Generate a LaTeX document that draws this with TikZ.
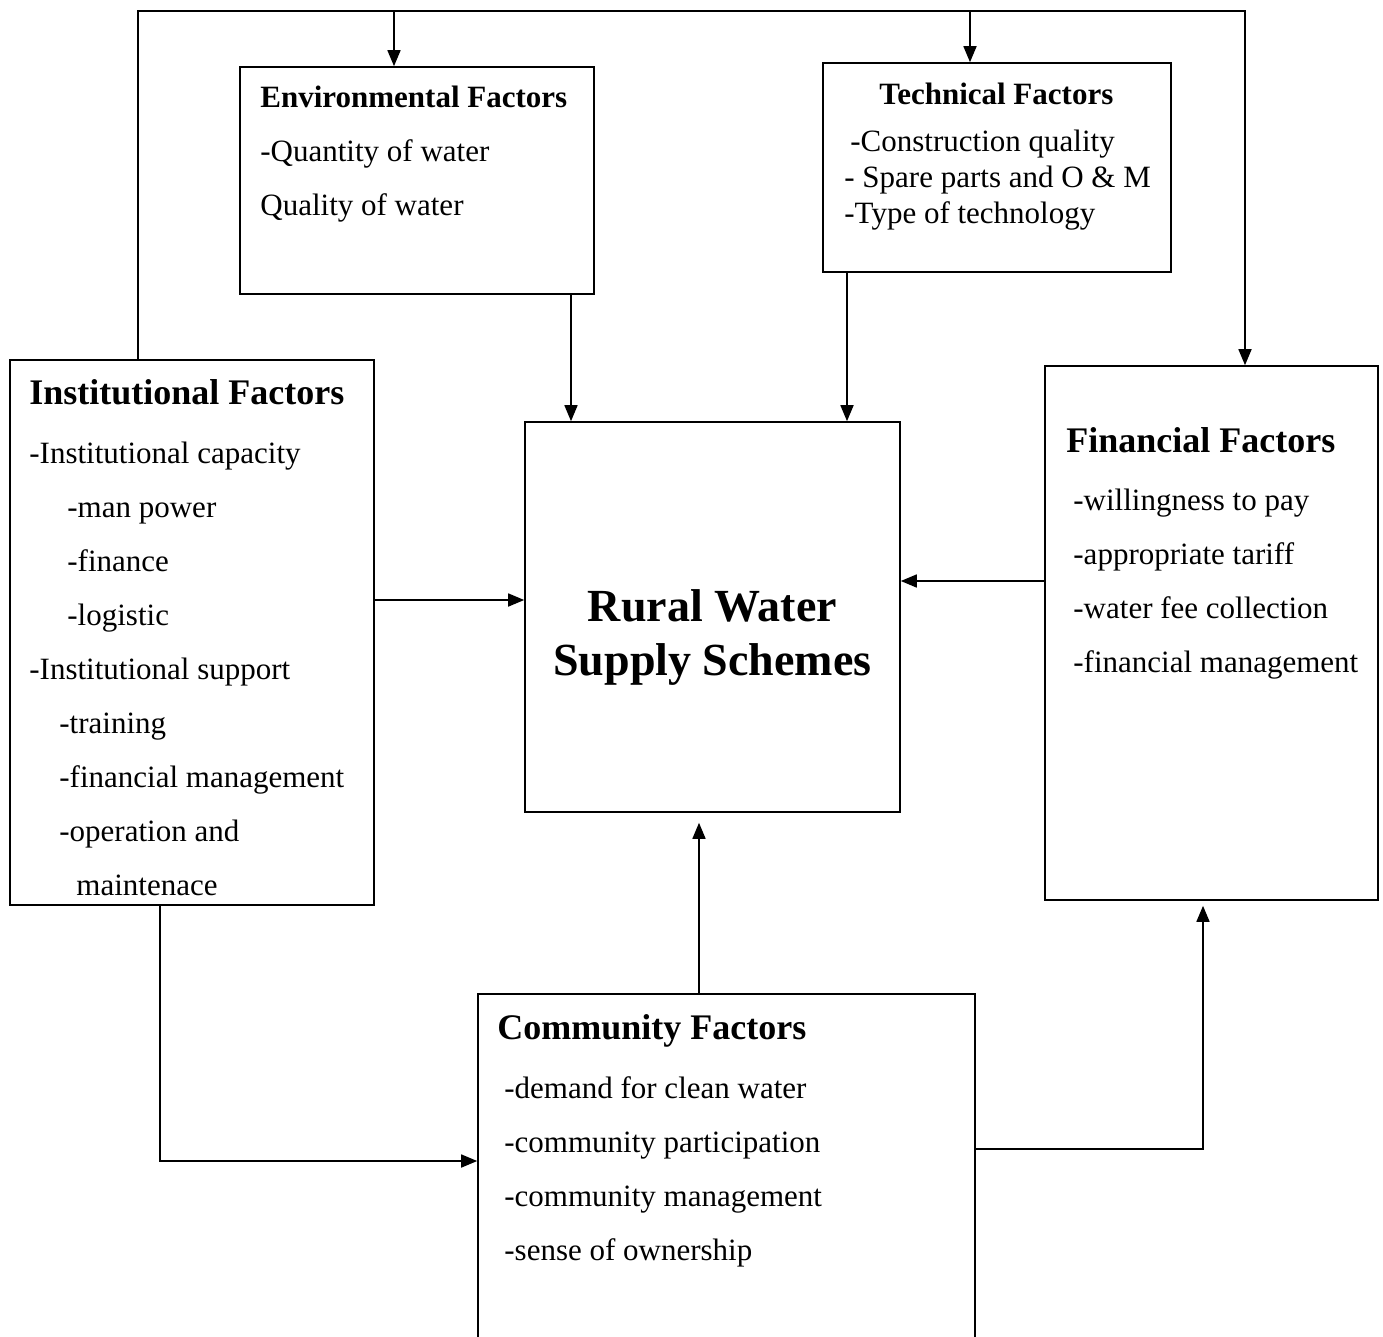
\documentclass[tikz,border=0pt]{standalone}
\usepackage{fontspec}
\setmainfont{Liberation Serif}
\usetikzlibrary{positioning, arrows.meta, calc}

\tikzset{
	factor/.style={draw, line width=1.6pt, inner sep=0pt},
	txt/.style={inner sep=0pt, align=left, font=\fontsize{31}{54}\selectfont},
	flow/.style={line width=1.6pt, -{Triangle[length=16pt, width=13pt]}},
}
\newcommand{\hd}[2]{{\bfseries\fontsize{#1}{54}\selectfont #2}}

\begin{document}
\begin{tikzpicture}[x=1pt, y=-1pt]
	\clip (0, 0) rectangle (1383, 1336);
	% boxes
	\node [factor, minimum width=354pt, minimum height=227pt] (env) at (417, 180.5) {};
	\node [factor, minimum width=348pt, minimum height=209pt] (tech) at (997, 167.5) {};
	\node [factor, minimum width=364pt, minimum height=545pt] (inst) at (192, 632.5) {};
	\node [factor, minimum width=375pt, minimum height=390pt] (rws) at (712.5, 617) {};
	\node [factor, minimum width=333pt, minimum height=534pt] (fin) at (1211.5, 633) {};
	\node [factor, minimum width=497pt, minimum height=356pt] (comm) at (726.5, 1172) {};

	% texts
	\node [txt, below right=20pt and 21pt of env.north west] (envtxt)
		{\hd{31}{Environmental Factors}\\ -Quantity of water\\ Quality of water};
	\node [txt, font=\fontsize{31}{36}\selectfont, below right=21pt and 22pt of tech.north west] (techtxt)
		{\hspace*{35pt}\hd{31}{Technical Factors}\\[11pt] \hspace*{6pt}-Construction quality\\ - Spare parts and O \& M\\ -Type of technology};
	\node [txt, below right=20pt and 20pt of inst.north west] (insttxt)
		{\hd{36}{Institutional Factors}\\[5pt] -Institutional capacity\\
		\hspace*{38pt}-man power\\ \hspace*{38pt}-finance\\ \hspace*{38pt}-logistic\\
		-Institutional support\\ \hspace*{30pt}-training\\ \hspace*{30pt}-financial management\\
		\hspace*{30pt}-operation and\\ \hspace*{47pt}maintenace};
	\node [txt, below right=62pt and 22pt of fin.north west] (fintxt)
		{\hd{36}{Financial Factors}\\[4pt] \hspace*{7pt}-willingness to pay\\ \hspace*{7pt}-appropriate tariff\\
		\hspace*{7pt}-water fee collection\\ \hspace*{7pt}-financial management};
	\node [txt, below right=21pt and 20pt of comm.north west] (commtxt)
		{\hd{36}{Community Factors}\\[5pt] \hspace*{7pt}-demand for clean water\\ \hspace*{7pt}-community participation\\
		\hspace*{7pt}-community management\\ \hspace*{7pt}-sense of ownership};
	\node [align=center, inner sep=0pt, font=\bfseries\fontsize{46}{54}\selectfont] (rwstxt)
		at ([yshift=-20pt]rws.center) {Rural Water\\ Supply Schemes};

	% top loop
	\coordinate (loopL) at (138, 11);
	\coordinate (loopR) at (1245, 11);
	\coordinate (envIn) at (394, 11);
	\coordinate (techIn) at (970, 11);
	\draw [flow] (loopL |- inst.north) -- (loopL) -- (loopR) -- (loopR |- fin.north);
	\draw [flow] (envIn) -- (envIn |- env.north);
	\draw [flow] (techIn) -- (techIn |- tech.north);

	% into the schemes
	\draw [flow] ([xshift=154pt]env.south) -- ([xshift=154pt]env.south |- rws.north);
	\draw [flow] ([xshift=-150pt]tech.south) -- ([xshift=-150pt]tech.south |- rws.north);
	\draw [flow] ([yshift=32.5pt]inst.east) -- ([yshift=32.5pt]inst.east -| rws.west);
	\draw [flow] ([yshift=52pt]fin.west) -- ([yshift=52pt]fin.west -| rws.east);
	\draw [flow, shorten >=10pt] ([xshift=-27.5pt]comm.north) -- ([xshift=-27.5pt]comm.north |- rws.south);

	% lower links
	\coordinate (instDn) at (160, 1161);
	\coordinate (finUp) at (1203, 1149);
	\draw [flow] (inst.south -| instDn) |- (comm.west |- instDn);
	\draw [flow, shorten >=5pt] (comm.east |- finUp) -| (fin.south -| finUp);
\end{tikzpicture}
\end{document}
